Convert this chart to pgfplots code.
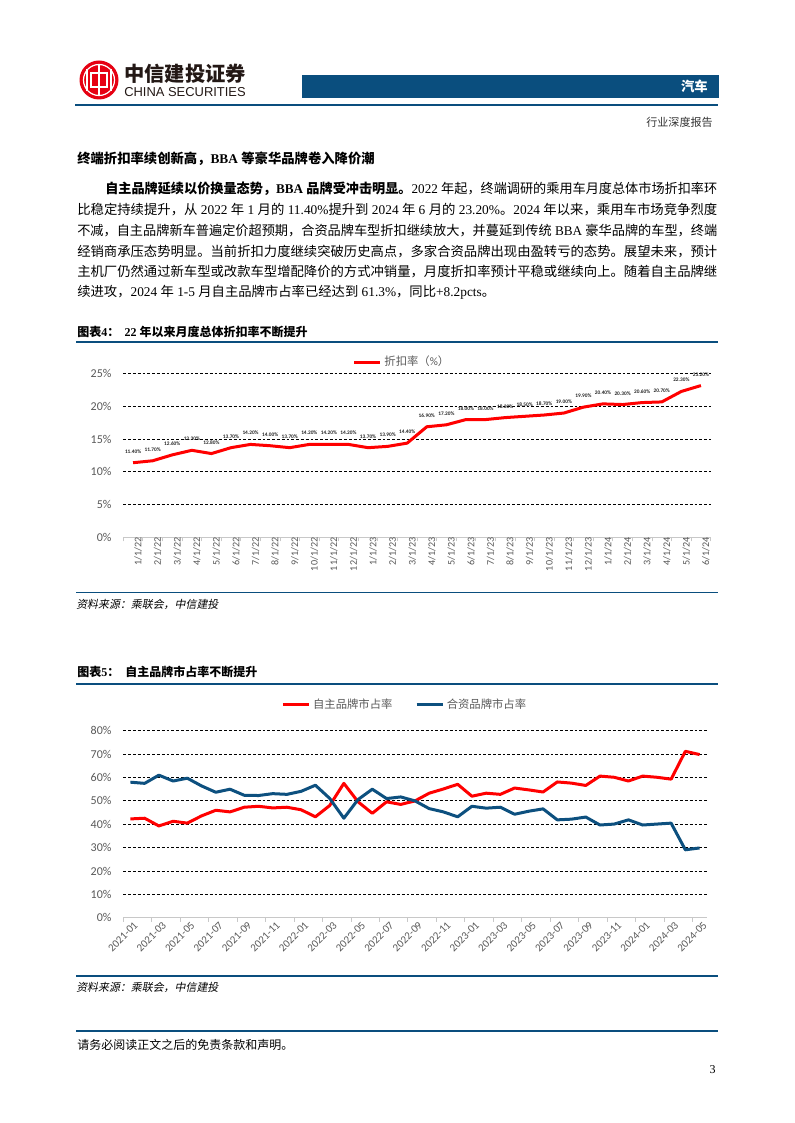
\documentclass[border=0pt]{standalone}
\usepackage{fontspec}
\usepackage{graphicx}
\usepackage{pgfplots}
\pgfplotsset{compat=1.18}
\usepackage{pgfplotstable}

\setmainfont{Liberation Serif}
\newfontfamily\cjk{Noto Sans CJK SC}
\newfontfamily\cjkit[FakeSlant=0.2]{Noto Sans CJK SC}
\newfontfamily\carlito{Carlito}
\newfontfamily\arial{Liberation Sans}

% switch to the CJK family for CJK characters
\XeTeXinterchartokenstate=1
\newXeTeXintercharclass\CJKcls
\newcount\cc
\cc="3000 \loop \XeTeXcharclass\cc=\CJKcls \advance\cc by 1 \ifnum\cc<"3040 \repeat
\cc="4E00 \loop \XeTeXcharclass\cc=\CJKcls \advance\cc by 1 \ifnum\cc<"A000 \repeat
\cc="FF00 \loop \XeTeXcharclass\cc=\CJKcls \advance\cc by 1 \ifnum\cc<"FFF0 \repeat
\newcommand\cjkfont{\cjk}
\XeTeXinterchartoks 0 \CJKcls = {\begingroup\cjkfont}
\XeTeXinterchartoks 4095 \CJKcls = {\begingroup\cjkfont}
\XeTeXinterchartoks \CJKcls 0 = {\endgroup}
\XeTeXinterchartoks \CJKcls 4095 = {\endgroup}

\newcommand\sz[2]{\fontsize{#1}{#2}\selectfont}
\newsavebox\linebox
\newcommand\fitline[2]{\sbox\linebox{#2}\pgfmathsetmacro\fitsx{#1/\the\wd\linebox}\scalebox{\fitsx}[1]{\usebox\linebox}}

\definecolor{citicred}{RGB}{230,0,18}
\definecolor{hdrblue}{RGB}{10,78,126}
\definecolor{serblue}{RGB}{13,80,127}
\definecolor{axisgray}{RGB}{200,200,200}
\definecolor{labelgray}{RGB}{89,89,89}

\pgfplotstableread{
m rate
1 11.4
2 11.7
3 12.6
4 13.3
5 12.8
6 13.7
7 14.2
8 14.0
9 13.7
10 14.2
11 14.2
12 14.2
13 13.7
14 13.9
15 14.4
16 16.9
17 17.2
18 18.0
19 18.0
20 18.3
21 18.5
22 18.7
23 19.0
24 19.9
25 20.4
26 20.3
27 20.6
28 20.7
29 22.3
30 23.2
}\ratetable

\pgfplotstableread{
m own jv
0 42.3 58.0
1 42.6 57.5
2 39.3 61.0
3 41.3 58.5
4 40.5 59.7
5 43.6 56.4
6 46.0 53.7
7 45.3 55.0
8 47.3 52.4
9 47.7 52.3
10 47.0 53.1
11 47.3 52.8
12 46.2 54.1
13 43.2 56.7
14 48.0 51.1
15 57.5 42.6
16 49.6 50.6
17 44.7 55.0
18 49.6 51.0
19 48.5 51.7
20 50.0 50.0
21 53.3 46.7
22 55.1 45.3
23 57.1 43.2
24 52.0 47.7
25 53.3 46.9
26 52.8 47.3
27 55.5 44.3
28 54.7 45.6
29 53.8 46.6
30 58.1 41.9
31 57.6 42.2
32 56.6 43.1
33 60.6 39.7
34 60.1 40.1
35 58.5 41.9
36 60.6 39.7
37 60.1 40.1
38 59.3 40.5
39 71.2 29.1
40 69.8 29.9
}\sharetable

\pgfplotsset{
  pagechart/.style={
    scale only axis, anchor=north west, clip=false,
    ymin=0,
    axis x line*=bottom, axis y line*=left,
    y axis line style={draw=none},
    x axis line style={draw=axisgray, line width=0.8pt, -},
    xtick style={draw=none}, ytick style={draw=none},
    extra y ticks={0}, extra y tick style={grid=none},
    ymajorgrids,
    grid style={black, line width=0.7pt, dash pattern=on 2.2pt off 1.4pt},
    /pgf/number format/assume math mode=true,
    yticklabel={\pgfmathprintnumber{\tick}\%},
    yticklabel style={font=\carlito\sz{9}{10}, text=labelgray, anchor=east, inner sep=0pt, xshift=-8.7pt},
    legend style={draw=none, fill=none, anchor=center, font=\carlito\sz{8.5}{10}, text=labelgray},
    legend image code/.code={\draw[##1, line width=2.25pt] (0pt,0pt) -- (19.5pt,0pt);},
  }
}

\begin{document}
\begin{tikzpicture}
\begin{scope}[x=0.75pt,y=-0.75pt]
\fill[white] (0,0) rectangle (794,1123);
% logo
\fill[citicred] (99,80) circle (19.5);
\draw[white, line width=0.9pt] (99,80) circle (15.5);
\draw[white, line width=1.6pt] (91,73) rectangle (107,87);
\draw[white, line width=1.8pt] (99,64.5) -- (99,95.5);
\draw[white, line width=1.2pt] (87,69) -- (87,91) (111,69) -- (111,91);
\node[anchor=base west, inner sep=0, text={rgb,255:red,35;green,24;blue,21}] at (124,81.2) {\bfseries\sz{15.2}{16}中信建投证券};
\node[anchor=base west, inner sep=0, text={rgb,255:red,35;green,24;blue,21}] at (124,96.3) {\arial\sz{9.7}{11}CHINA SECURITIES};
\fill[hdrblue] (302,75) rectangle (719,98);
\node[anchor=base east, inner sep=0, text=white] at (708,92) {\bfseries\sz{10}{12}汽车};
\draw[hdrblue, line width=1.2pt] (75,105) -- (718,105);
\node[anchor=base east, inner sep=0, text={rgb,255:red,51;green,51;blue,51}] at (713,126.9) {\sz{8.3}{10}行业深度报告};
% heading and paragraph
\node[anchor=base west, inner sep=0] at (77,163.3) {\bfseries\sz{10}{12}终端折扣率续创新高，BBA 等豪华品牌卷入降价潮};
\node[anchor=base west, inner sep=0] at (105,193.3) {\sz{10}{12}\fitline{459}{\textbf{自主品牌延续以价换量态势，BBA 品牌受冲击明显。}2022 年起，终端调研的乘用车月度总体市场折扣率环}};
\node[anchor=base west, inner sep=0] at (77,214.3) {\sz{10}{12}\fitline{480}{比稳定持续提升，从 2022 年 1 月的 11.40\%提升到 2024 年 6 月的 23.20\%。2024 年以来，乘用车市场竞争烈度}};
\node[anchor=base west, inner sep=0] at (77,235) {\sz{10}{12}\fitline{480}{不减，自主品牌新车普遍定价超预期，合资品牌车型折扣继续放大，并蔓延到传统 BBA 豪华品牌的车型，终端}};
\node[anchor=base west, inner sep=0] at (77,256) {\sz{10}{12}\fitline{480}{经销商承压态势明显。当前折扣力度继续突破历史高点，多家合资品牌出现由盈转亏的态势。展望未来，预计}};
\node[anchor=base west, inner sep=0] at (77,276.7) {\sz{10}{12}\fitline{480}{主机厂仍然通过新车型或改款车型增配降价的方式冲销量，月度折扣率预计平稳或继续向上。随着自主品牌继}};
\node[anchor=base west, inner sep=0] at (77,296.7) {\sz{10}{12}续进攻，2024 年 1-5 月自主品牌市占率已经达到 61.3\%，同比+8.2pcts。};
% figure 4 frame
\node[anchor=base west, inner sep=0] at (77,336.3) {\bfseries\sz{9}{11}图表4：};
\node[anchor=base west, inner sep=0] at (124.3,336.3) {\bfseries\sz{9}{11}22 年以来月度总体折扣率不断提升};
\draw[hdrblue, line width=1.5pt] (76,341.7) -- (718,341.7);
\draw[hdrblue, line width=0.9pt] (76,592.7) -- (718,592.7);
\node[anchor=base west, inner sep=0] at (76,608.2) {\let\cjkfont\cjkit\sz{8.2}{10}资料来源：乘联会，中信建投};
% figure 5 frame
\node[anchor=base west, inner sep=0] at (77,676.3) {\bfseries\sz{9}{11}图表5：};
\node[anchor=base west, inner sep=0] at (125,676.3) {\bfseries\sz{9}{11}自主品牌市占率不断提升};
\draw[hdrblue, line width=1.5pt] (76,684) -- (718,684);
\draw[hdrblue, line width=0.9pt] (76,976) -- (718,976);
\node[anchor=base west, inner sep=0] at (76,991.6) {\let\cjkfont\cjkit\sz{8.2}{10}资料来源：乘联会，中信建投};
% footer
\draw[hdrblue, line width=0.8pt] (76,1031) -- (718,1031);
\node[anchor=base west, inner sep=0] at (77,1049.6) {\sz{9}{11}请务必阅读正文之后的免责条款和声明。};
\node[anchor=base east, inner sep=0] at (716,1073) {\sz{9}{11}3};
\end{scope}

% chart 4
\begin{axis}[pagechart,
  at={(92.475pt,-280.35pt)},
  width=440.55pt, height=122.6pt,
  xmin=0.5, xmax=30.5, ymax=25,
  ytick={5,10,...,25},
  xtick={1,...,30},
  xticklabels={1/1/22,2/1/22,3/1/22,4/1/22,5/1/22,6/1/22,7/1/22,8/1/22,9/1/22,10/1/22,11/1/22,12/1/22,1/1/23,2/1/23,3/1/23,4/1/23,5/1/23,6/1/23,7/1/23,8/1/23,9/1/23,10/1/23,11/1/23,12/1/23,1/1/24,2/1/24,3/1/24,4/1/24,5/1/24,6/1/24},
  xticklabel style={font=\carlito\sz{7.6}{8}, text=labelgray, rotate=90, anchor=east, inner sep=0pt, yshift=-3.75pt},
  extra x ticks={0.5,1.5,...,30.5},
  extra x tick labels={},
  extra x tick style={xtick style={draw=axisgray, line width=0.6pt}, major tick length=3pt, tick align=outside},
  legend style={at={(0.475,1.072)}},
  nodes near coords={\pgfmathprintnumber[fixed,fixed zerofill,precision=2,assume math mode=true]{\pgfplotspointmeta}\%},
  every node near coord/.append style={font=\carlito\bfseries\sz{4}{5}, text={rgb,255:red,38;green,38;blue,38}, anchor=center, inner sep=0pt, yshift=8.5pt},
]
\addplot[red, line width=2.25pt, line join=round, point meta=y] table[x=m, y=rate] {\ratetable};
\addlegendentry{折扣率（\%）}
\end{axis}

% chart 5
\begin{axis}[pagechart,
  at={(92.475pt,-548.025pt)},
  width=437.55pt, height=140.4pt,
  xmin=-0.5, xmax=40.5, ymax=80,
  ytick={10,20,...,80},
  xtick={0,2,...,40},
  xticklabels={2021-01,2021-03,2021-05,2021-07,2021-09,2021-11,2022-01,2022-03,2022-05,2022-07,2022-09,2022-11,2023-01,2023-03,2023-05,2023-07,2023-09,2023-11,2024-01,2024-03,2024-05},
  xticklabel style={font=\carlito\sz{8.2}{9}, text=labelgray, rotate=45, anchor=north east, inner sep=0pt, yshift=-3pt},
  extra x ticks={-0.5,1.5,...,39.5},
  extra x tick labels={},
  extra x tick style={xtick style={draw=axisgray, line width=0.6pt}, major tick length=3pt, tick align=outside},
  legend columns=2,
  legend style={at={(0.483,1.141)}, /tikz/every even column/.append style={column sep=15pt}},
]
\addplot[red, line width=2.25pt, line join=round] table[x=m, y=own] {\sharetable};
\addlegendentry{自主品牌市占率}
\addplot[serblue, line width=2.25pt, line join=round] table[x=m, y=jv] {\sharetable};
\addlegendentry{合资品牌市占率}
\end{axis}
\end{tikzpicture}
\end{document}
